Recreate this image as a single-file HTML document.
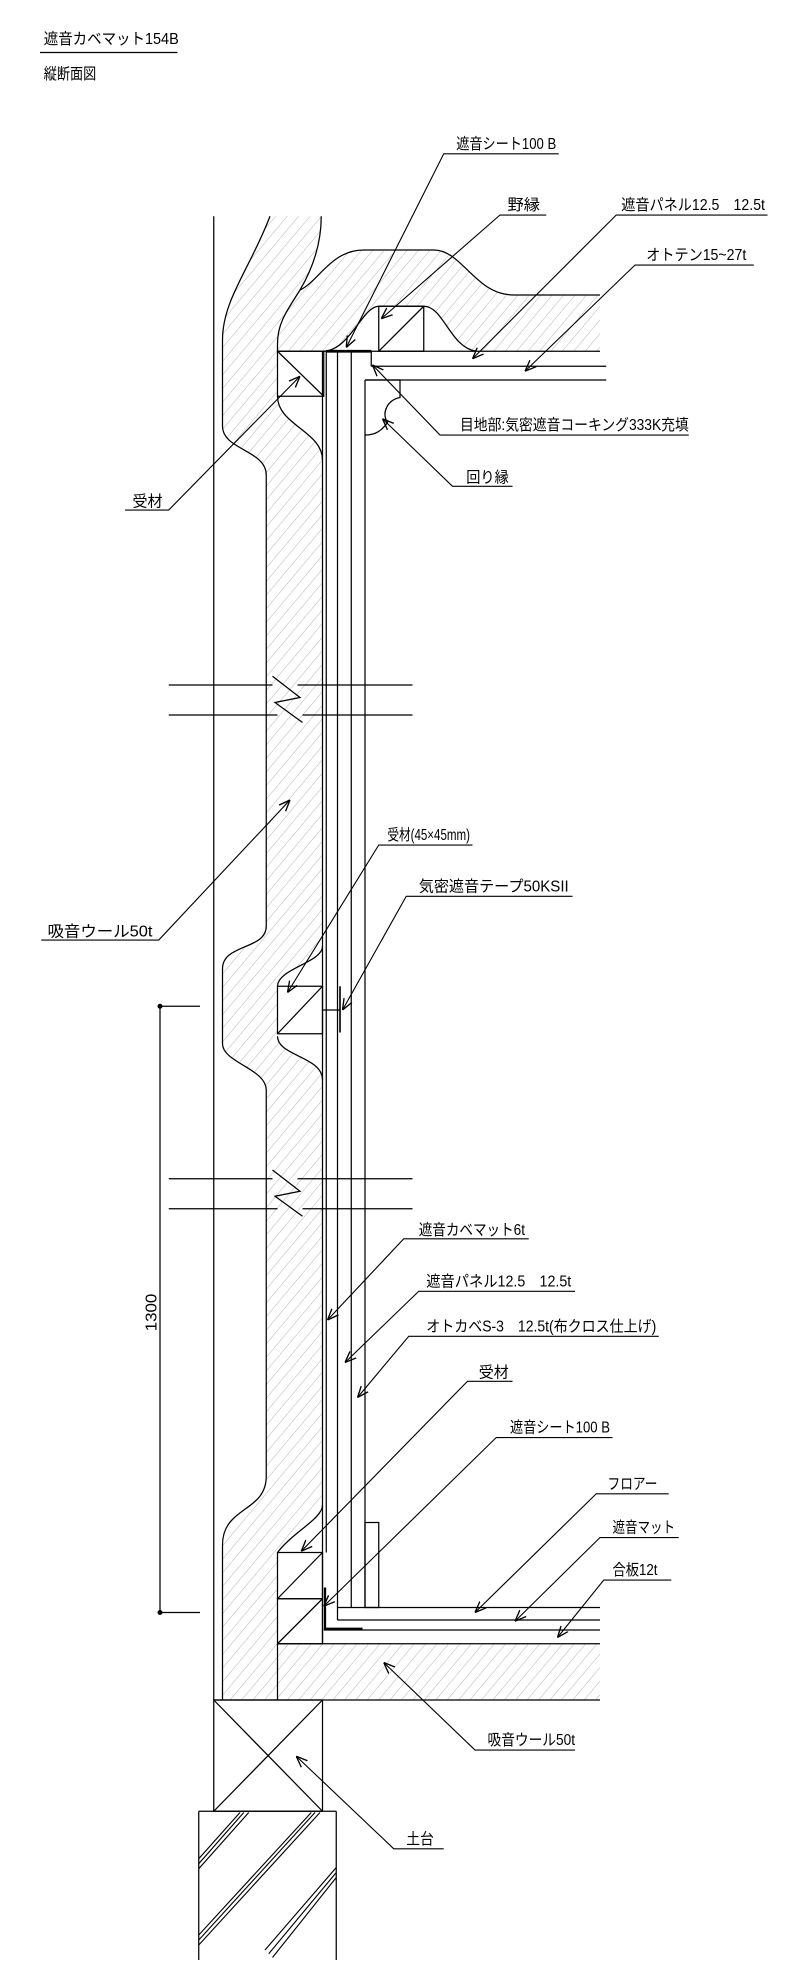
<!DOCTYPE html>
<html><head><meta charset="utf-8"><style>
html,body{margin:0;padding:0;background:#fff;}
svg{display:block;}
text{font-family:"Liberation Sans","Noto Sans CJK JP",sans-serif;font-size:12.5px;fill:#000;}
</style></head><body>
<svg width="800" height="1966" viewBox="0 0 640 1572.8" xmlns="http://www.w3.org/2000/svg">
<defs>
<pattern id="h" width="7" height="7" patternUnits="userSpaceOnUse" patternTransform="rotate(40)">
<line x1="0" y1="0" x2="0" y2="7" stroke="#aaa" stroke-width="0.7"/>
</pattern>
<marker id="a" viewBox="0 0 10 10" refX="10" refY="5" markerWidth="9" markerHeight="9" markerUnits="userSpaceOnUse" orient="auto">
<path d="M0,1 L10,5 L0,9" fill="none" stroke="#000" stroke-width="1.2"/>
</marker>
<clipPath id="fc"><rect x="159" y="1449" width="110" height="120"/></clipPath>
</defs>

<!-- title -->
<text x="35" y="35" textLength="108" lengthAdjust="spacingAndGlyphs">遮音カベマット154B</text>
<line x1="32" y1="42" x2="142" y2="42" stroke="#000" stroke-width="1"/>
<text x="35" y="63" textLength="42" lengthAdjust="spacingAndGlyphs">縦断面図</text>

<!-- insulation hatch fills -->
<path d="M216,173 C200,215 178,240 178,272 L178,341 C178,360 213,360 213,380 L213,741 C213,760 178,755 178,775 L178,835 C178,850 213,855 213,872 L213,1181 C213,1210 178,1205 178,1236 L178,1360 L222,1360 L222,1242 C235,1225 258,1215 258,1204 L258,864 C258,845 222,845 222,829 L222,789 C222,775 258,770 258,757 L258,368 C258,345 222,340 222,317 L222,281 L259,281 C280,280 290,245 303,245 L339,245 C355,245 360,278 381,281 L480,281 L480,236 L411,236 C380,236 370,200 347,200 L291,200 C265,200 255,225 240,232 C250,215 257,195 257,173 Z" fill="url(#h)"/>
<rect x="222" y="1315" width="258" height="45" fill="url(#h)"/>

<g fill="none" stroke="#000" stroke-width="1">
<!-- wall line -->
<line x1="171" y1="173" x2="171" y2="1360"/>
<!-- insulation outlines -->
<path d="M216,173 C200,215 178,240 178,272 L178,341 C178,360 213,360 213,380 L213,741 C213,760 178,755 178,775 L178,835 C178,850 213,855 213,872 L213,1181 C213,1210 178,1205 178,1236 L178,1360"/>
<path d="M257,173 C257,195 250,215 240,232 C230,248 222,258 222,275 L222,281"/>
<path d="M240,232 C255,225 265,200 291,200 L347,200 C370,200 380,236 411,236 L480,236"/>
<path d="M259,281 C280,280 290,245 303,245 L339,245 C355,245 360,278 381,281"/>
<path d="M222,317 C222,340 258,345 258,368"/>
<path d="M258,757 C258,770 222,775 222,789 M222,829 C222,845 258,845 258,864"/>
<path d="M258,1204 C258,1215 235,1225 222,1242"/>
<!-- ceiling -->
<line x1="222" y1="281" x2="480" y2="281"/>
<rect x="303" y="245" width="36" height="36"/>
<line x1="303" y1="281" x2="339" y2="245"/>
<line x1="297" y1="293" x2="485" y2="293"/>
<line x1="292" y1="304" x2="485" y2="304"/>
<line x1="297" y1="281" x2="297" y2="293"/>
<line x1="261" y1="281" x2="297" y2="281" stroke-width="2.2"/>
<path d="M292,304 L320,304 L320,318 C310,320 305,330 310,338 C305,345 300,348 292,348"/>
<!-- top 受材 -->
<rect x="222" y="281" width="37" height="36"/>
<line x1="222" y1="281" x2="259" y2="317"/>
<!-- vertical panels -->
<line x1="258" y1="281" x2="258" y2="1315"/>
<line x1="261" y1="281" x2="261" y2="1242"/>
<line x1="270" y1="281" x2="270" y2="1296"/>
<line x1="281" y1="281" x2="281" y2="1286"/>
<line x1="292" y1="304" x2="292" y2="1286"/>
<!-- middle 受材 and tape -->
<rect x="222" y="789" width="36" height="38"/>
<line x1="258" y1="789" x2="222" y2="827"/>
<line x1="258" y1="808" x2="272" y2="808"/>
<line x1="272" y1="789" x2="272" y2="826" stroke-width="1.3"/>
<!-- bottom 受材 -->
<rect x="222" y="1242" width="36" height="37"/>
<rect x="222" y="1279" width="36" height="36"/>
<line x1="258" y1="1242" x2="222" y2="1279"/>
<line x1="258" y1="1279" x2="222" y2="1315"/>
<!-- baseboard -->
<rect x="292" y="1218" width="11" height="68"/>
<!-- floor -->
<line x1="270" y1="1286" x2="480" y2="1286"/>
<line x1="270" y1="1296" x2="480" y2="1296"/>
<line x1="259" y1="1304" x2="480" y2="1304"/>
<line x1="222" y1="1315" x2="480" y2="1315"/>
<line x1="171" y1="1360" x2="480" y2="1360"/>
<line x1="222" y1="1315" x2="222" y2="1360"/>
<path d="M260,1270 L260,1303 L290,1303" stroke-width="1.8"/>
<!-- 土台 -->
<rect x="171" y="1360" width="87" height="89"/>
<line x1="171" y1="1360" x2="258" y2="1449"/>
<line x1="258" y1="1360" x2="171" y2="1449"/>
<!-- foundation -->
<line x1="159" y1="1449" x2="269" y2="1449"/>
<line x1="159" y1="1449" x2="159" y2="1568"/>
<line x1="269" y1="1449" x2="269" y2="1568"/>
<g clip-path="url(#fc)" stroke-width="0.9">
<path d="M159,1487 L192,1450 M159,1491 L195,1450 M159,1495 L199,1450"/>
<path d="M159,1548 L249,1450 M159,1552 L252,1450 M159,1556 L256,1450"/>
<path d="M212,1560 L269,1494 M215,1563 L269,1498 M218,1566 L269,1502"/>
</g>
<!-- breaks -->
<path d="M135,548 L218,548 M238,548 L330,548"/>
<path d="M135,572 L222,572 M242,572 L330,572"/>
<path d="M218,541 L240,558 L220,562 L242,578"/>
<path d="M135,943 L218,943 M238,943 L330,943"/>
<path d="M135,967 L222,967 M242,967 L330,967"/>
<path d="M218,936 L240,953 L220,957 L242,973"/>
<!-- dimension -->
<line x1="128" y1="805" x2="128" y2="1290"/>
<line x1="128" y1="805" x2="160" y2="805"/>
<line x1="128" y1="1290" x2="160" y2="1290"/>
</g>
<circle cx="128" cy="805" r="2" fill="#000"/>
<circle cx="128" cy="1290" r="2" fill="#000"/>
<text transform="translate(125,1065) rotate(-90)" textLength="30" lengthAdjust="spacingAndGlyphs">1300</text>

<!-- leaders -->
<g fill="none" stroke="#000" stroke-width="0.9">
<path d="M447,123 L355,123 L277,278" marker-end="url(#a)"/>
<path d="M437,172 L400,172 L305,255" marker-end="url(#a)"/>
<path d="M614,172 L493,172 L378,287" marker-end="url(#a)"/>
<path d="M603,212 L508,212 L420,297" marker-end="url(#a)"/>
<path d="M551,348 L352,348 L298,292" marker-end="url(#a)"/>
<path d="M410,389 L362,389 L306,335" marker-end="url(#a)"/>
<path d="M100,408 L135,408 L240,301" marker-end="url(#a)"/>
<path d="M33,752 L127,752 L232,640" marker-end="url(#a)"/>
<path d="M378,676 L303,676 L230,794" marker-end="url(#a)"/>
<path d="M458,717 L325,717 L274,808" marker-end="url(#a)"/>
<path d="M423,991 L323,991 L262,1056" marker-end="url(#a)"/>
<path d="M460,1033 L335,1033 L276,1090" marker-end="url(#a)"/>
<path d="M527,1069 L327,1069 L286,1118" marker-end="url(#a)"/>
<path d="M410,1105 L374,1105 L241,1241" marker-end="url(#a)"/>
<path d="M490,1150 L397,1150 L259,1285" marker-end="url(#a)"/>
<path d="M535,1195 L477,1195 L380,1290" marker-end="url(#a)"/>
<path d="M543,1230 L480,1230 L412,1297" marker-end="url(#a)"/>
<path d="M537,1264 L483,1264 L446,1310" marker-end="url(#a)"/>
<path d="M460,1400 L380,1400 L307,1330" marker-end="url(#a)"/>
<path d="M355,1479 L315,1479 L237,1405" marker-end="url(#a)"/>
</g>

<!-- labels -->
<text x="365" y="119" textLength="80" lengthAdjust="spacingAndGlyphs">遮音シート100 B</text>
<text x="406" y="168" textLength="26" lengthAdjust="spacingAndGlyphs">野縁</text>
<text x="497" y="168" textLength="115" lengthAdjust="spacingAndGlyphs">遮音パネル12.5　12.5t</text>
<text x="517" y="208" textLength="80" lengthAdjust="spacingAndGlyphs">オトテン15~27t</text>
<text x="368" y="344" textLength="183" lengthAdjust="spacingAndGlyphs">目地部:気密遮音コーキング333K充填</text>
<text x="373" y="386" textLength="34" lengthAdjust="spacingAndGlyphs">回り縁</text>
<text x="106" y="405" textLength="24" lengthAdjust="spacingAndGlyphs">受材</text>
<text x="38" y="749" textLength="84" lengthAdjust="spacingAndGlyphs">吸音ウール50t</text>
<text x="310" y="672" textLength="66" lengthAdjust="spacingAndGlyphs">受材(45×45mm)</text>
<text x="335" y="713" textLength="120" lengthAdjust="spacingAndGlyphs">気密遮音テープ50KSII</text>
<text x="335" y="988" textLength="85" lengthAdjust="spacingAndGlyphs">遮音カベマット6t</text>
<text x="341" y="1029" textLength="116" lengthAdjust="spacingAndGlyphs">遮音パネル12.5　12.5t</text>
<text x="341" y="1065" textLength="184" lengthAdjust="spacingAndGlyphs">オトカベS-3　12.5t(布クロス仕上げ)</text>
<text x="383" y="1102" textLength="24" lengthAdjust="spacingAndGlyphs">受材</text>
<text x="408" y="1146" textLength="80" lengthAdjust="spacingAndGlyphs">遮音シート100 B</text>
<text x="486" y="1191" textLength="40" lengthAdjust="spacingAndGlyphs">フロアー</text>
<text x="490" y="1226" textLength="50" lengthAdjust="spacingAndGlyphs">遮音マット</text>
<text x="490" y="1260" textLength="36" lengthAdjust="spacingAndGlyphs">合板12t</text>
<text x="390" y="1396" textLength="70" lengthAdjust="spacingAndGlyphs">吸音ウール50t</text>
<text x="325" y="1475" textLength="22" lengthAdjust="spacingAndGlyphs">土台</text>
</svg>
</body></html>
